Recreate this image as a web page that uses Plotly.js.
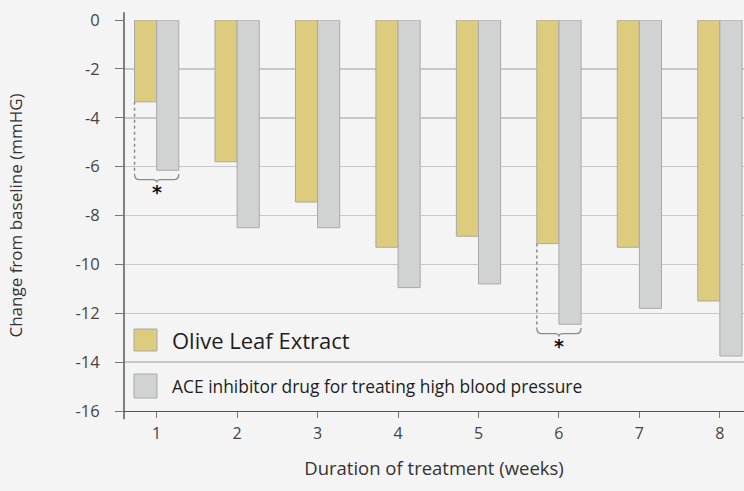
<!DOCTYPE html>
<html>
<head>
<meta charset="utf-8">
<script src="https://cdn.plot.ly/plotly-3.0.1.min.js"></script>
<style>
  html, body { margin: 0; padding: 0; background: #f4f4f4; }
  #chart { width: 744px; height: 491px; }
</style>
</head>
<body>
<div id="chart"></div>
<script>
// ---- Data ----
const weeks = [1, 2, 3, 4, 5, 6, 7, 8];
const weekLabels = ['1', '2', '3', '4', '5', '6', '7', '8'];
const oliveLeaf = [-3.35, -5.8, -7.45, -9.3, -8.85, -9.15, -9.3, -11.5];
const aceInhibitor = [-6.15, -8.5, -8.5, -10.95, -10.8, -12.45, -11.8, -13.75];
const seriesNames = ['Olive Leaf Extract', 'ACE inhibitor drug for treating high blood pressure'];
const significantWeeks = [1, 6];
const yTicks = [0, -2, -4, -6, -8, -10, -12, -14, -16];

const yellow = '#ddcb7e';
const grey = '#d1d2d2';
const edge = '#a9a9a9';

const traces = [
  { type: 'bar', x: weeks, y: oliveLeaf, name: seriesNames[0],
    marker: { color: yellow, line: { color: edge, width: 1 } }, showlegend: false, hoverinfo: 'y' },
  { type: 'bar', x: weeks, y: aceInhibitor, name: seriesNames[1],
    marker: { color: grey, line: { color: edge, width: 1 } }, showlegend: false, hoverinfo: 'y' }
];

const half = 0.275; // half of a bar group width in x units
const shapes = [];
const annotations = [];

// significance brackets
significantWeeks.forEach(w => {
  const i = weeks.indexOf(w);
  const yv = oliveLeaf[i], gv = aceInhibitor[i];
  const xl = w - half, xr = w + half, xc = w;
  const top = gv - 0.15, h = gv - 0.38, d = gv - 0.5;
  shapes.push({ type: 'line', xref: 'x', yref: 'y', x0: xl, x1: xl, y0: yv, y1: top,
    line: { color: '#8a8a8a', width: 1.5, dash: 'dot' } });
  shapes.push({ type: 'path', xref: 'x', yref: 'y',
    path: `M ${xl},${top} Q ${xl},${h} ${xl + 0.06},${h} L ${xc - 0.05},${h} Q ${xc},${h} ${xc},${d} Q ${xc},${h} ${xc + 0.05},${h} L ${xr - 0.06},${h} Q ${xr},${h} ${xr},${top}`,
    line: { color: '#8a8a8a', width: 1.3 } });
  annotations.push({ x: xc, y: gv - 0.9, xref: 'x', yref: 'y', text: '<b>*</b>', showarrow: false,
    font: { family: 'DejaVu Sans, sans-serif', size: 19, color: '#111' } });
});

// y axis line overhang
shapes.push({ type: 'line', xref: 'paper', yref: 'paper', x0: 0, x1: 0, y0: -0.021, y1: 1.02,
  line: { color: '#333', width: 1.2 } });

// legend (drawn inside plot, bottom-left)
const legendItems = [
  { name: seriesNames[0], color: yellow, y0: 329, y1: 351, size: 22, ty: 340 },
  { name: seriesNames[1], color: grey, y0: 374, y1: 398, size: 17.4, ty: 386 }
];
const plotTop = 20, plotH = 391, plotL = 124, plotW = 620;
const toPy = px => 1 - (px - plotTop) / plotH;
const toPx = px => (px - plotL) / plotW;
legendItems.forEach(it => {
  shapes.push({ type: 'rect', xref: 'paper', yref: 'paper', x0: toPx(134), x1: toPx(157),
    y0: toPy(it.y1), y1: toPy(it.y0), fillcolor: it.color, line: { color: edge, width: 1 } });
  annotations.push({ xref: 'paper', yref: 'paper', x: toPx(170), y: toPy(it.ty), xanchor: 'left', yanchor: 'middle',
    text: it.name, showarrow: false, font: { family: 'Open Sans, sans-serif', size: it.size, color: '#1e1e1e' } });
});

const layout = {
  width: 744, height: 491,
  margin: { l: 124, r: 0, t: 20, b: 80 },
  paper_bgcolor: '#f4f4f4', plot_bgcolor: '#f4f4f4',
  barmode: 'group', bargap: 0.45, bargroupgap: 0,
  font: { family: 'Open Sans, sans-serif', color: '#444' },
  xaxis: {
    range: [0.594, 8.30], tickvals: weeks, ticktext: weekLabels,
    showgrid: false, zeroline: false, showline: true, linecolor: '#555', linewidth: 1.2,
    ticks: 'outside', ticklen: 6, tickcolor: '#777', tickwidth: 1,
    tickfont: { size: 16, color: '#444' }, ticklabelstandoff: 2,
    title: { text: 'Duration of treatment (weeks)', font: { size: 18.5, color: '#333' }, standoff: 18 },
    automargin: false
  },
  yaxis: {
    range: [-16, 0], tickvals: yTicks, ticktext: yTicks.map(String),
    showgrid: true, gridcolor: '#c8c8c8', gridwidth: 1.5, zeroline: false, showline: false,
    ticks: 'outside', ticklen: 8, tickcolor: '#777', tickwidth: 1,
    tickfont: { size: 16.5, color: '#444' }, ticklabelstandoff: 12,
    title: { text: 'Change from baseline (mmHG)', font: { size: 17, color: '#333' }, standoff: 48 },
    automargin: false
  },
  shapes: shapes,
  annotations: annotations
};

Plotly.newPlot('chart', traces, layout, { displayModeBar: false, staticPlot: true });
</script>
</body>
</html>
